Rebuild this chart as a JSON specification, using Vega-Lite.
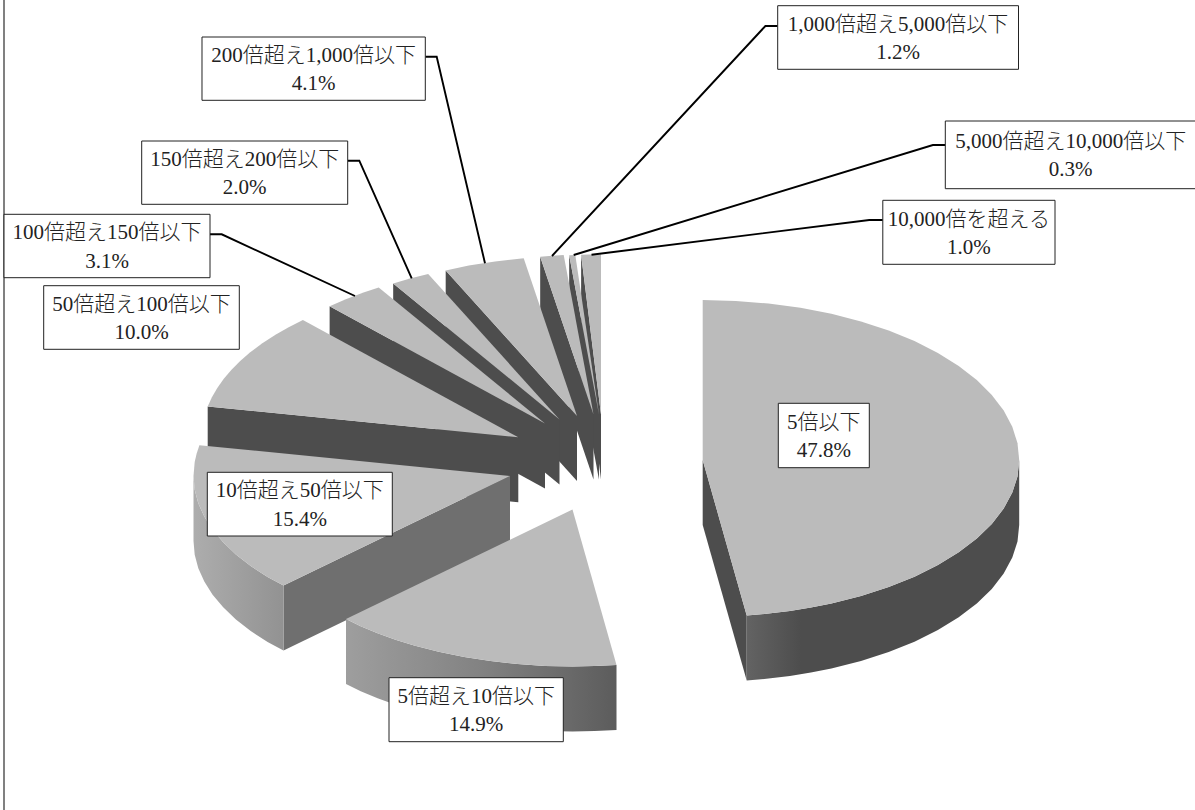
{
  "$schema": "https://vega.github.io/schema/vega-lite/v6.json",
  "width": 1195, "height": 810, "padding": 0, "autosize": "none", "background": "white",
  "config": {"view": {"stroke": null}},
  "datasets": {
    "outline": [
      {"piece":"J-wall","kind":"wall","ord":0,"x":601,"y":414.5},{"piece":"J-wall","kind":"wall","ord":1,"x":581.1,"y":254.8},{"piece":"J-wall","kind":"wall","ord":2,"x":581.1,"y":319.8},{"piece":"J-wall","kind":"wall","ord":3,"x":601,"y":479.5},
      {"piece":"J-top","kind":"top","ord":0,"x":601,"y":414.5},{"piece":"J-top","kind":"top","ord":1,"x":581.1,"y":254.8},{"piece":"J-top","kind":"top","ord":2,"x":590,"y":254.6},{"piece":"J-top","kind":"top","ord":3,"x":601,"y":254.5},
      {"piece":"I-wall","kind":"wall","ord":0,"x":599,"y":414.5},{"piece":"I-wall","kind":"wall","ord":1,"x":569.2,"y":255.2},{"piece":"I-wall","kind":"wall","ord":2,"x":569.2,"y":320.2},{"piece":"I-wall","kind":"wall","ord":3,"x":599,"y":479.5},
      {"piece":"I-top","kind":"top","ord":0,"x":599,"y":414.5},{"piece":"I-top","kind":"top","ord":1,"x":569.2,"y":255.2},{"piece":"I-top","kind":"top","ord":2,"x":575.3,"y":254.9},
      {"piece":"H-wall","kind":"wall","ord":0,"x":593.5,"y":414.4},{"piece":"H-wall","kind":"wall","ord":1,"x":540.2,"y":256.7},{"piece":"H-wall","kind":"wall","ord":2,"x":540.2,"y":321.7},{"piece":"H-wall","kind":"wall","ord":3,"x":593.5,"y":479.4},
      {"piece":"H-top","kind":"top","ord":0,"x":593.5,"y":414.4},{"piece":"H-top","kind":"top","ord":1,"x":540.2,"y":256.7},{"piece":"H-top","kind":"top","ord":2,"x":552.2,"y":255.8},{"piece":"H-top","kind":"top","ord":3,"x":563.7,"y":255.1},
      {"piece":"G-wall","kind":"wall","ord":0,"x":577,"y":416},{"piece":"G-wall","kind":"wall","ord":1,"x":445.7,"y":270.4},{"piece":"G-wall","kind":"wall","ord":2,"x":445.7,"y":335.4},{"piece":"G-wall","kind":"wall","ord":3,"x":577,"y":481},
      {"piece":"G-top","kind":"top","ord":0,"x":577,"y":416},{"piece":"G-top","kind":"top","ord":1,"x":445.7,"y":270.4},{"piece":"G-top","kind":"top","ord":2,"x":468.8,"y":265.6},{"piece":"G-top","kind":"top","ord":3,"x":495.1,"y":261.5},{"piece":"G-top","kind":"top","ord":4,"x":523.7,"y":258.3},
      {"piece":"F-wall","kind":"wall","ord":0,"x":559.5,"y":419.5},{"piece":"F-wall","kind":"wall","ord":1,"x":393.2,"y":283.4},{"piece":"F-wall","kind":"wall","ord":2,"x":393.2,"y":348.4},{"piece":"F-wall","kind":"wall","ord":3,"x":559.5,"y":484.5},
      {"piece":"F-top","kind":"top","ord":0,"x":559.5,"y":419.5},{"piece":"F-top","kind":"top","ord":1,"x":393.2,"y":283.4},{"piece":"F-top","kind":"top","ord":2,"x":410.9,"y":278.2},{"piece":"F-top","kind":"top","ord":3,"x":428.2,"y":273.9},
      {"piece":"E-wall","kind":"wall","ord":0,"x":545,"y":423.5},{"piece":"E-wall","kind":"wall","ord":1,"x":329.6,"y":306.3},{"piece":"E-wall","kind":"wall","ord":2,"x":329.6,"y":371.3},{"piece":"E-wall","kind":"wall","ord":3,"x":545,"y":488.5},
      {"piece":"E-top","kind":"top","ord":0,"x":545,"y":423.5},{"piece":"E-top","kind":"top","ord":1,"x":329.6,"y":306.3},{"piece":"E-top","kind":"top","ord":2,"x":345.8,"y":299.2},{"piece":"E-top","kind":"top","ord":3,"x":363.5,"y":292.4},{"piece":"E-top","kind":"top","ord":4,"x":378.7,"y":287.4},
      {"piece":"D-wall","kind":"wall","ord":0,"x":518.3,"y":437.3},{"piece":"D-wall","kind":"wall","ord":1,"x":207.7,"y":406.5},{"piece":"D-wall","kind":"wall","ord":2,"x":207.7,"y":471.5},{"piece":"D-wall","kind":"wall","ord":3,"x":518.3,"y":502.3},
      {"piece":"D-top","kind":"top","ord":0,"x":518.3,"y":437.3},{"piece":"D-top","kind":"top","ord":1,"x":207.7,"y":406.5},{"piece":"D-top","kind":"top","ord":2,"x":211.9,"y":397.2},{"piece":"D-top","kind":"top","ord":3,"x":217.3,"y":387.9},{"piece":"D-top","kind":"top","ord":4,"x":223.8,"y":378.7},{"piece":"D-top","kind":"top","ord":5,"x":231.5,"y":369.7},{"piece":"D-top","kind":"top","ord":6,"x":240.2,"y":360.9},{"piece":"D-top","kind":"top","ord":7,"x":249.9,"y":352.5},{"piece":"D-top","kind":"top","ord":8,"x":262.3,"y":343.3},{"piece":"D-top","kind":"top","ord":9,"x":275.9,"y":334.5},{"piece":"D-top","kind":"top","ord":10,"x":288.7,"y":327.2},{"piece":"D-top","kind":"top","ord":11,"x":302.9,"y":320.1},
      {"piece":"C-cut","kind":"cut","ord":0,"x":510,"y":476},{"piece":"C-cut","kind":"cut","ord":1,"x":283.5,"y":585.6},{"piece":"C-cut","kind":"cut","ord":2,"x":283.5,"y":650.6},{"piece":"C-cut","kind":"cut","ord":3,"x":510,"y":541}
    ],
    "rim": [
      {"piece":"C-rim","ord":0,"x":283.5,"y":585.6},{"piece":"C-rim","ord":1,"x":267.6,"y":576.9},{"piece":"C-rim","ord":2,"x":250.7,"y":566.1},{"piece":"C-rim","ord":3,"x":235.9,"y":554.5},{"piece":"C-rim","ord":4,"x":223.2,"y":542.3},{"piece":"C-rim","ord":5,"x":212.6,"y":529.7},{"piece":"C-rim","ord":6,"x":204.3,"y":516.6},{"piece":"C-rim","ord":7,"x":198.3,"y":503.3},{"piece":"C-rim","ord":8,"x":194.7,"y":489.7},{"piece":"C-rim","ord":9,"x":193.5,"y":476},
      {"piece":"C-rim","ord":10,"x":193.5,"y":541},{"piece":"C-rim","ord":11,"x":194.7,"y":554.7},{"piece":"C-rim","ord":12,"x":198.3,"y":568.3},{"piece":"C-rim","ord":13,"x":204.3,"y":581.6},{"piece":"C-rim","ord":14,"x":212.6,"y":594.7},{"piece":"C-rim","ord":15,"x":223.2,"y":607.3},{"piece":"C-rim","ord":16,"x":235.9,"y":619.5},{"piece":"C-rim","ord":17,"x":250.7,"y":631.1},{"piece":"C-rim","ord":18,"x":267.6,"y":641.9},{"piece":"C-rim","ord":19,"x":283.5,"y":650.6},
      {"piece":"C-top","ord":0,"x":510,"y":476},{"piece":"C-top","ord":1,"x":283.5,"y":585.6},{"piece":"C-top","ord":2,"x":267.6,"y":576.9},{"piece":"C-top","ord":3,"x":250.7,"y":566.1},{"piece":"C-top","ord":4,"x":235.9,"y":554.5},{"piece":"C-top","ord":5,"x":223.2,"y":542.3},{"piece":"C-top","ord":6,"x":212.6,"y":529.7},{"piece":"C-top","ord":7,"x":204.3,"y":516.6},{"piece":"C-top","ord":8,"x":198.3,"y":503.3},{"piece":"C-top","ord":9,"x":194.7,"y":489.7},{"piece":"C-top","ord":10,"x":193.5,"y":476},{"piece":"C-top","ord":11,"x":194.7,"y":462},{"piece":"C-top","ord":12,"x":196.6,"y":453.7},{"piece":"C-top","ord":13,"x":199.4,"y":445.2},
      {"piece":"B-rim","ord":0,"x":616.5,"y":664.9},{"piece":"B-rim","ord":1,"x":594.6,"y":666.1},{"piece":"B-rim","ord":2,"x":572.5,"y":666.5},{"piece":"B-rim","ord":3,"x":544.9,"y":665.9},{"piece":"B-rim","ord":4,"x":517.5,"y":664.1},{"piece":"B-rim","ord":5,"x":490.6,"y":661.1},{"piece":"B-rim","ord":6,"x":464.3,"y":657},{"piece":"B-rim","ord":7,"x":438.7,"y":651.8},{"piece":"B-rim","ord":8,"x":414.2,"y":645.5},{"piece":"B-rim","ord":9,"x":395.5,"y":639.7},{"piece":"B-rim","ord":10,"x":377.6,"y":633.2},{"piece":"B-rim","ord":11,"x":360.7,"y":626.2},{"piece":"B-rim","ord":12,"x":346,"y":619.1},
      {"piece":"B-rim","ord":13,"x":346,"y":684.1},{"piece":"B-rim","ord":14,"x":360.7,"y":691.2},{"piece":"B-rim","ord":15,"x":377.6,"y":698.2},{"piece":"B-rim","ord":16,"x":395.5,"y":704.7},{"piece":"B-rim","ord":17,"x":414.2,"y":710.5},{"piece":"B-rim","ord":18,"x":438.7,"y":716.8},{"piece":"B-rim","ord":19,"x":464.3,"y":722},{"piece":"B-rim","ord":20,"x":490.6,"y":726.1},{"piece":"B-rim","ord":21,"x":517.5,"y":729.1},{"piece":"B-rim","ord":22,"x":544.9,"y":730.9},{"piece":"B-rim","ord":23,"x":572.5,"y":731.5},{"piece":"B-rim","ord":24,"x":594.6,"y":731.1},{"piece":"B-rim","ord":25,"x":616.5,"y":729.9},
      {"piece":"B-top","ord":0,"x":572.5,"y":509.5},{"piece":"B-top","ord":1,"x":616.5,"y":664.9},{"piece":"B-top","ord":2,"x":594.6,"y":666.1},{"piece":"B-top","ord":3,"x":572.5,"y":666.5},{"piece":"B-top","ord":4,"x":544.9,"y":665.9},{"piece":"B-top","ord":5,"x":517.5,"y":664.1},{"piece":"B-top","ord":6,"x":490.6,"y":661.1},{"piece":"B-top","ord":7,"x":464.3,"y":657},{"piece":"B-top","ord":8,"x":438.7,"y":651.8},{"piece":"B-top","ord":9,"x":414.2,"y":645.5},{"piece":"B-top","ord":10,"x":395.5,"y":639.7},{"piece":"B-top","ord":11,"x":377.6,"y":633.2},{"piece":"B-top","ord":12,"x":360.7,"y":626.2},{"piece":"B-top","ord":13,"x":346,"y":619.1},
      {"piece":"A-cut","ord":0,"x":702.7,"y":460},{"piece":"A-cut","ord":1,"x":746.7,"y":615.4},{"piece":"A-cut","ord":2,"x":746.7,"y":680.4},{"piece":"A-cut","ord":3,"x":702.7,"y":525},
      {"piece":"A-rim","ord":0,"x":1019.2,"y":460},{"piece":"A-rim","ord":1,"x":1017.5,"y":476.4},{"piece":"A-rim","ord":2,"x":1012.3,"y":492.6},{"piece":"A-rim","ord":3,"x":1003.7,"y":508.5},{"piece":"A-rim","ord":4,"x":991.8,"y":523.9},{"piece":"A-rim","ord":5,"x":976.8,"y":538.5},{"piece":"A-rim","ord":6,"x":958.7,"y":552.3},{"piece":"A-rim","ord":7,"x":937.9,"y":565.1},{"piece":"A-rim","ord":8,"x":914.5,"y":576.7},{"piece":"A-rim","ord":9,"x":888.7,"y":587},{"piece":"A-rim","ord":10,"x":861,"y":596},{"piece":"A-rim","ord":11,"x":831.4,"y":603.4},{"piece":"A-rim","ord":12,"x":810.9,"y":607.5},{"piece":"A-rim","ord":13,"x":789.9,"y":610.9},{"piece":"A-rim","ord":14,"x":768.5,"y":613.6},{"piece":"A-rim","ord":15,"x":746.7,"y":615.4},
      {"piece":"A-rim","ord":16,"x":746.7,"y":680.4},{"piece":"A-rim","ord":17,"x":768.5,"y":678.6},{"piece":"A-rim","ord":18,"x":789.9,"y":675.9},{"piece":"A-rim","ord":19,"x":810.9,"y":672.5},{"piece":"A-rim","ord":20,"x":831.4,"y":668.4},{"piece":"A-rim","ord":21,"x":861,"y":661},{"piece":"A-rim","ord":22,"x":888.7,"y":652},{"piece":"A-rim","ord":23,"x":914.5,"y":641.7},{"piece":"A-rim","ord":24,"x":937.9,"y":630.1},{"piece":"A-rim","ord":25,"x":958.7,"y":617.3},{"piece":"A-rim","ord":26,"x":976.8,"y":603.5},{"piece":"A-rim","ord":27,"x":991.8,"y":588.9},{"piece":"A-rim","ord":28,"x":1003.7,"y":573.5},{"piece":"A-rim","ord":29,"x":1012.3,"y":557.6},{"piece":"A-rim","ord":30,"x":1017.5,"y":541.4},{"piece":"A-rim","ord":31,"x":1019.2,"y":525},
      {"piece":"A-top","ord":0,"x":702.7,"y":460},{"piece":"A-top","ord":1,"x":702.7,"y":300},{"piece":"A-top","ord":2,"x":735.8,"y":300.9},{"piece":"A-top","ord":3,"x":768.5,"y":303.5},{"piece":"A-top","ord":4,"x":800.5,"y":307.8},{"piece":"A-top","ord":5,"x":831.4,"y":313.8},{"piece":"A-top","ord":6,"x":861,"y":321.4},{"piece":"A-top","ord":7,"x":888.7,"y":330.6},{"piece":"A-top","ord":8,"x":914.5,"y":341.1},{"piece":"A-top","ord":9,"x":937.9,"y":352.9},{"piece":"A-top","ord":10,"x":958.7,"y":366},{"piece":"A-top","ord":11,"x":976.8,"y":380},{"piece":"A-top","ord":12,"x":991.8,"y":394.9},{"piece":"A-top","ord":13,"x":1003.7,"y":410.6},{"piece":"A-top","ord":14,"x":1012.3,"y":426.7},{"piece":"A-top","ord":15,"x":1017.5,"y":443.3},{"piece":"A-top","ord":16,"x":1019.2,"y":460},
      {"piece":"A-top","ord":17,"x":1017.5,"y":476.4},{"piece":"A-top","ord":18,"x":1012.3,"y":492.6},{"piece":"A-top","ord":19,"x":1003.7,"y":508.5},{"piece":"A-top","ord":20,"x":991.8,"y":523.9},{"piece":"A-top","ord":21,"x":976.8,"y":538.5},{"piece":"A-top","ord":22,"x":958.7,"y":552.3},{"piece":"A-top","ord":23,"x":937.9,"y":565.1},{"piece":"A-top","ord":24,"x":914.5,"y":576.7},{"piece":"A-top","ord":25,"x":888.7,"y":587},{"piece":"A-top","ord":26,"x":861,"y":596},{"piece":"A-top","ord":27,"x":831.4,"y":603.4},{"piece":"A-top","ord":28,"x":810.9,"y":607.5},{"piece":"A-top","ord":29,"x":789.9,"y":610.9},{"piece":"A-top","ord":30,"x":768.5,"y":613.6},{"piece":"A-top","ord":31,"x":746.7,"y":615.4}
    ],
    "leaders": [
      {"to":"200","ord":0,"x":425.3,"y":56.7},{"to":"200","ord":1,"x":436.7,"y":56.7},{"to":"200","ord":2,"x":485,"y":263.3},
      {"to":"150","ord":0,"x":347.7,"y":160.7},{"to":"150","ord":1,"x":359.3,"y":160.7},{"to":"150","ord":2,"x":411.7,"y":278.3},
      {"to":"100","ord":0,"x":210,"y":234.3},{"to":"100","ord":1,"x":221.7,"y":234.3},{"to":"100","ord":2,"x":355,"y":296},
      {"to":"1000","ord":0,"x":777.7,"y":26},{"to":"1000","ord":1,"x":765.4,"y":26},{"to":"1000","ord":2,"x":552,"y":256},
      {"to":"5000","ord":0,"x":945.6,"y":145},{"to":"5000","ord":1,"x":932.9,"y":145},{"to":"5000","ord":2,"x":573.7,"y":255},
      {"to":"10000","ord":0,"x":882.8,"y":220},{"to":"10000","ord":1,"x":869.3,"y":220},{"to":"10000","ord":2,"x":591.5,"y":254.7}
    ],
    "labels": [
      {"name":"5倍以下","share":0.478,"x":778.3,"x2":869.3,"y":403.3,"y2":467.7},
      {"name":"5倍超え10倍以下","share":0.149,"x":389,"x2":563.3,"y":677.7,"y2":741.7},
      {"name":"10倍超え50倍以下","share":0.154,"x":207.3,"x2":392.3,"y":472.3,"y2":536},
      {"name":"50倍超え100倍以下","share":0.1,"x":43.7,"x2":239.3,"y":285.7,"y2":349.3},
      {"name":"100倍超え150倍以下","share":0.031,"x":4,"x2":210,"y":214.3,"y2":277.7},
      {"name":"150倍超え200倍以下","share":0.02,"x":141.7,"x2":347.7,"y":141,"y2":204.3},
      {"name":"200倍超え1,000倍以下","share":0.041,"x":202,"x2":425.3,"y":37,"y2":100.3},
      {"name":"1,000倍超え5,000倍以下","share":0.012,"x":777.7,"x2":1018.5,"y":5.7,"y2":69.3},
      {"name":"5,000倍超え10,000倍以下","share":0.003,"x":945.3,"x2":1196,"y":121,"y2":188.7},
      {"name":"10,000倍を超える","share":0.01,"x":882.8,"x2":1055,"y":200.3,"y2":264.3}
    ]
  },
  "data": {"name": "outline"},
  "encoding": {
    "x": {"field": "x", "type": "quantitative", "axis": null, "scale": {"domain": [0, 1195], "range": [0, 1195]}},
    "y": {"field": "y", "type": "quantitative", "axis": null, "scale": {"domain": [0, 810], "range": [0, 810]}}
  },
  "layer": [
    {
      "data": {"values": [{"x": 4, "y": 0, "y2": 810}]},
      "mark": {"type": "rule", "color": "#808080", "strokeWidth": 2},
      "encoding": {"y2": {"field": "y2"}}
    },
    {
      "mark": {"type": "line", "strokeWidth": 0},
      "encoding": {
        "detail": {"field": "piece"},
        "order": {"field": "ord"},
        "fill": {"field": "kind", "type": "nominal", "legend": null, "scale": {"domain": ["top", "wall", "cut"], "range": ["#bbbbbb", "#4d4d4d", "#6f6f6f"]}}
      }
    },
    {
      "data": {"name": "rim"}, "transform": [{"filter": "datum.piece === 'C-rim'"}],
      "mark": {"type": "line", "strokeWidth": 0, "fill": {"gradient": "linear", "x1": 0, "x2": 1, "y1": 0, "y2": 0, "stops": [{"offset": 0, "color": "#adadad"}, {"offset": 1, "color": "#929292"}]}},
      "encoding": {"order": {"field": "ord"}}
    },
    {
      "data": {"name": "rim"}, "transform": [{"filter": "datum.piece === 'C-top'"}],
      "mark": {"type": "line", "strokeWidth": 0, "fill": "#bbbbbb"},
      "encoding": {"order": {"field": "ord"}}
    },
    {
      "data": {"name": "rim"}, "transform": [{"filter": "datum.piece === 'B-rim'"}],
      "mark": {"type": "line", "strokeWidth": 0, "fill": {"gradient": "linear", "x1": 0, "x2": 1, "y1": 0, "y2": 0, "stops": [{"offset": 0, "color": "#9e9e9e"}, {"offset": 0.5, "color": "#828282"}, {"offset": 1, "color": "#5c5c5c"}]}},
      "encoding": {"order": {"field": "ord"}}
    },
    {
      "data": {"name": "rim"}, "transform": [{"filter": "datum.piece === 'B-top'"}],
      "mark": {"type": "line", "strokeWidth": 0, "fill": "#bbbbbb"},
      "encoding": {"order": {"field": "ord"}}
    },
    {
      "data": {"name": "rim"}, "transform": [{"filter": "datum.piece === 'A-cut'"}],
      "mark": {"type": "line", "strokeWidth": 0, "fill": "#4d4d4d"},
      "encoding": {"order": {"field": "ord"}}
    },
    {
      "data": {"name": "rim"}, "transform": [{"filter": "datum.piece === 'A-rim'"}],
      "mark": {"type": "line", "strokeWidth": 0, "fill": {"gradient": "linear", "x1": 1, "x2": 0, "y1": 0, "y2": 0, "stops": [{"offset": 0, "color": "#4d4d4d"}, {"offset": 0.8, "color": "#4d4d4d"}, {"offset": 1, "color": "#636363"}]}},
      "encoding": {"order": {"field": "ord"}}
    },
    {
      "data": {"name": "rim"}, "transform": [{"filter": "datum.piece === 'A-top'"}],
      "mark": {"type": "line", "strokeWidth": 0, "fill": "#bbbbbb"},
      "encoding": {"order": {"field": "ord"}}
    },
    {
      "data": {"name": "leaders"},
      "mark": {"type": "line", "color": "#000000", "strokeWidth": 1.9},
      "encoding": {"detail": {"field": "to"}, "order": {"field": "ord"}}
    },
    {
      "data": {"name": "labels"},
      "mark": {"type": "rect", "fill": "#ffffff", "stroke": "#222222", "strokeWidth": 1},
      "encoding": {"x2": {"field": "x2"}, "y2": {"field": "y2"}}
    },
    {
      "data": {"name": "labels"},
      "transform": [{"calculate": "(datum.x + datum.x2) / 2", "as": "cx"}, {"calculate": "(datum.y + datum.y2) / 2 - 12.8", "as": "ny"}],
      "mark": {"type": "text", "font": "Liberation Serif, Noto Sans CJK JP", "fontSize": 21, "fontWeight": 300, "color": "#222222", "align": "center", "baseline": "middle"},
      "encoding": {"x": {"field": "cx"}, "y": {"field": "ny"}, "text": {"field": "name"}}
    },
    {
      "data": {"name": "labels"},
      "transform": [{"calculate": "(datum.x + datum.x2) / 2", "as": "cx"}, {"calculate": "(datum.y + datum.y2) / 2 + 15.5", "as": "py"}],
      "mark": {"type": "text", "font": "Liberation Serif, Noto Sans CJK JP", "fontSize": 21, "fontWeight": 300, "color": "#222222", "align": "center", "baseline": "middle"},
      "encoding": {"x": {"field": "cx"}, "y": {"field": "py"}, "text": {"field": "share", "format": ".1%"}}
    }
  ]
}
